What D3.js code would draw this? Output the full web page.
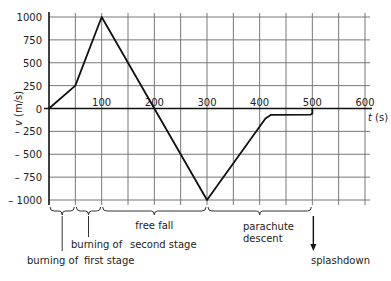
<!DOCTYPE html>
<html>
<head>
<meta charset="utf-8">
<script src="https://cdn.jsdelivr.net/npm/d3@7"></script>
<style>
  body { margin: 0; background: #fff; }
  text { font-family: "DejaVu Sans", sans-serif; fill: #222; }
</style>
</head>
<body>
<div id="chart"></div>
<script>
var svgWidth = 391;
var svgHeight = 281;

// rocket flight: time (s) vs velocity (m/s)
var time = [0, 50, 100, 300, 411, 421, 496, 500, 500];
var velocity = [0, 250, 1000, -1000, -110, -70, -68, -55, 0];

var xTicks = [100, 200, 300, 400, 500, 600];
var yTicks = [1000, 750, 500, 250, 0, -250, -500, -750, -1000];
var yTickLabels = ["1000", "750", "500", "250", "0", "\u2013 250", "\u2013 500", "\u2013 750", "\u2013 1000"];
var xGrid = d3.range(0, 601, 50);

// phases shown with braces under the chart
var phaseStart = [0, 50, 100, 300];
var phaseEnd = [50, 100, 300, 500];

var svg = d3.select("#chart")
    .append("svg")
    .attr("width", svgWidth)
    .attr("height", svgHeight);

var x = d3.scaleLinear().domain([0, 600]).range([49, 365]);
var y = d3.scaleLinear().domain([-1000, 1000]).range([200, 17]);

// grid
svg.append("g").selectAll("line")
    .data(xGrid.slice(1))
    .enter()
    .append("line")
    .attr("x1", d => x(d)).attr("x2", d => x(d))
    .attr("y1", 13).attr("y2", 205)
    .attr("stroke", "#777")
    .attr("stroke-width", 1);

svg.append("g").selectAll("line")
    .data(yTicks.filter(d => d !== 0))
    .enter()
    .append("line")
    .attr("x1", x(0)).attr("x2", 370)
    .attr("y1", d => y(d)).attr("y2", d => y(d))
    .attr("stroke", "#777")
    .attr("stroke-width", 1);

// axes
svg.append("line")
    .attr("x1", 44).attr("x2", 372)
    .attr("y1", y(0)).attr("y2", y(0))
    .attr("stroke", "#111").attr("stroke-width", 1.6);

svg.append("line")
    .attr("x1", x(0)).attr("x2", x(0))
    .attr("y1", 12).attr("y2", 205)
    .attr("stroke", "#111").attr("stroke-width", 1.6);

// tick labels
svg.append("g").selectAll("text")
    .data(yTicks)
    .enter()
    .append("text")
    .attr("x", 42)
    .attr("y", d => y(d) + 4)
    .attr("text-anchor", "end")
    .attr("font-size", 10)
    .text((d, i) => yTickLabels[i]);

svg.append("g").selectAll("text")
    .data(xTicks)
    .enter()
    .append("text")
    .attr("x", d => x(d))
    .attr("y", y(0) - 3)
    .attr("text-anchor", "middle")
    .attr("font-size", 10)
    .text(d => d);

// axis titles
svg.append("text")
    .attr("x", 368)
    .attr("y", y(0) + 12)
    .attr("font-size", 10)
    .html('<tspan font-style="italic">t</tspan> (s)');

svg.append("text")
    .attr("transform", `translate(22, ${y(0)}) rotate(-90)`)
    .attr("text-anchor", "middle")
    .attr("font-size", 10)
    .html('<tspan font-style="italic">v</tspan> (m/s)');

// velocity line
var line = d3.line()
    .x((d, i) => x(time[i]))
    .y((d, i) => y(velocity[i]));

svg.append("path")
    .datum(time)
    .attr("d", line)
    .attr("fill", "none")
    .attr("stroke", "#111")
    .attr("stroke-width", 1.8)
    .attr("stroke-linejoin", "round");

// braces
function brace(a, b) {
    var x1 = x(a) + 1, x2 = x(b) - 1, m = (x1 + x2) / 2, t = 207;
    return `M${x1},${t} Q${x1},${t + 4} ${x1 + 4},${t + 4} L${m - 3},${t + 4} Q${m},${t + 4} ${m},${t + 8}` +
        ` Q${m},${t + 4} ${m + 3},${t + 4} L${x2 - 4},${t + 4} Q${x2},${t + 4} ${x2},${t}`;
}

svg.append("g").selectAll("path")
    .data(phaseStart)
    .enter()
    .append("path")
    .attr("d", (d, i) => brace(d, phaseEnd[i]))
    .attr("fill", "none")
    .attr("stroke", "#333")
    .attr("stroke-width", 1);

// leader lines for the two burning phases
svg.append("line")
    .attr("x1", x(25)).attr("x2", x(25))
    .attr("y1", 216).attr("y2", 251)
    .attr("stroke", "#333");
svg.append("line")
    .attr("x1", x(75)).attr("x2", x(75))
    .attr("y1", 216).attr("y2", 237)
    .attr("stroke", "#333");

// splashdown arrow
svg.append("line")
    .attr("x1", x(500) + 1).attr("x2", x(500) + 1)
    .attr("y1", 216).attr("y2", 246)
    .attr("stroke", "#111").attr("stroke-width", 1.4);
svg.append("path")
    .attr("d", `M${x(500) - 2},244 L${x(500) + 4},244 L${x(500) + 1},251 Z`)
    .attr("fill", "#111");

var labels = svg.append("g").attr("font-size", 10);
labels.append("text").attr("x", x(200)).attr("y", 229).attr("text-anchor", "middle").text("free fall");
labels.append("text").attr("x", 243).attr("y", 230).text("parachute");
labels.append("text").attr("x", 243).attr("y", 242).text("descent");
labels.append("text").attr("x", 71).attr("y", 248).text("burning of");
labels.append("text").attr("x", 130).attr("y", 248).text("second stage");
labels.append("text").attr("x", 27).attr("y", 264).text("burning of");
labels.append("text").attr("x", 84).attr("y", 264).text("first stage");
labels.append("text").attr("x", 311).attr("y", 264).text("splashdown");
</script>
</body>
</html>
